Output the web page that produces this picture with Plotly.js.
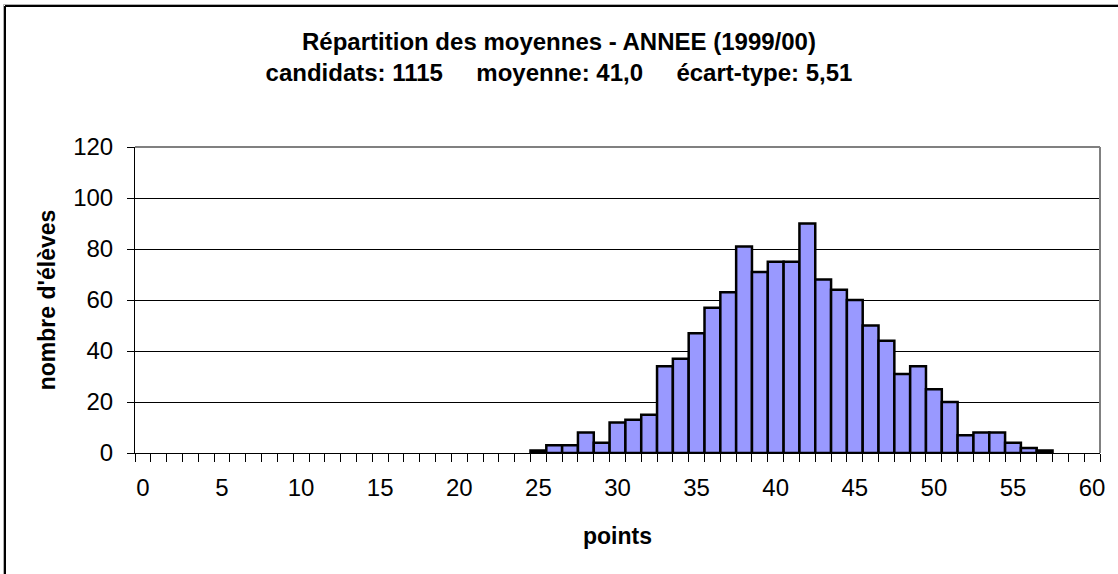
<!DOCTYPE html>
<html>
<head>
<meta charset="utf-8">
<script src="https://cdn.plot.ly/plotly-3.0.1.min.js"></script>
<style>
  html, body { margin: 0; padding: 0; background: #fff; }
  #chart { width: 1118px; height: 574px; }
</style>
</head>
<body>
<div id="chart"></div>
<script>
// Répartition des moyennes — histogram of averages, 1999/00
const notes = [25, 26, 27, 28, 29, 30, 31, 32, 33, 34, 35, 36, 37, 38, 39, 40, 41,
               42, 43, 44, 45, 46, 47, 48, 49, 50, 51, 52, 53, 54, 55, 56, 57];
const eleves = [1, 3, 3, 8, 4, 12, 13, 15, 34, 37, 47, 57, 63, 81, 71, 75, 75,
                90, 68, 64, 60, 50, 44, 31, 34, 25, 20, 7, 8, 8, 4, 2, 1];
const ticksX = [0, 5, 10, 15, 20, 25, 30, 35, 40, 45, 50, 55, 60];
const ticksY = [0, 20, 40, 60, 80, 100, 120];

const titre1 = "Répartition des moyennes - ANNEE (1999/00)";
const gap = "\u00a0\u00a0\u00a0\u00a0\u00a0";
const titre2 = "candidats: 1115" + gap + "moyenne: 41,0" + gap + "écart-type: 5,51";

const FONT = "'Liberation Sans', Arial, sans-serif";

// plot box in pixels, used to place the outer frame
const M = { l: 135, r: 18, t: 147, b: 121 };
const W = 1118, H = 574;
const pw = W - M.l - M.r, ph = H - M.t - M.b;
const px = x => (x - M.l) / pw;
const py = y => (H - M.b - y) / ph;

const frame = (x0, y0, x1, y1, color, width) => ({
  type: "line", xref: "paper", yref: "paper",
  x0: px(x0), y0: py(y0), x1: px(x1), y1: py(y1),
  line: { color, width }, layer: "above",
});

const trace = {
  type: "bar",
  x: notes,
  y: eleves,
  width: 1,
  marker: { color: "#9999FF", line: { color: "#000000", width: 2.5 } },
  hoverinfo: "x+y",
};

const layout = {
  width: W, height: H,
  margin: { ...M, pad: 0 },
  paper_bgcolor: "#ffffff",
  plot_bgcolor: "#ffffff",
  font: { family: FONT, size: 24, color: "#000" },
  showlegend: false,
  title: {
    text: titre1 + "<br>" + titre2,
    font: { family: FONT, size: 24, weight: "bold", color: "#000" },
    x: 0.5, xref: "container", xanchor: "center",
    y: 1 - 50 / H, yref: "container", yanchor: "top",
  },
  xaxis: {
    range: [-0.5, 60.5],
    tickmode: "array", tickvals: ticksX,
    ticks: "", ticklabelstandoff: 13,
    tickfont: { size: 24 },
    showline: true, linecolor: "#000", linewidth: 1,
    showgrid: false, zeroline: false,
    minor: { tick0: 0.5, dtick: 1, ticks: "outside", ticklen: 8, tickcolor: "#000", tickwidth: 1, showgrid: false },
    title: { text: "points", font: { size: 23, weight: "bold" }, standoff: 28 },
    fixedrange: true,
  },
  yaxis: {
    range: [0, 120],
    tickmode: "array", tickvals: ticksY,
    ticks: "outside", ticklen: 7, tickcolor: "#000", tickwidth: 1,
    tickfont: { size: 24 }, ticklabelstandoff: 9,
    showline: true, linecolor: "#000", linewidth: 1,
    showgrid: true, gridcolor: "#000", gridwidth: 1,
    zeroline: false,
    title: { text: "nombre d'élèves", font: { size: 23, weight: "bold" }, standoff: 11 },
    fixedrange: true,
  },
  shapes: [
    // grey top/right edge of the plot area
    { type: "line", xref: "paper", yref: "paper", x0: 0, y0: 1, x1: 1, y1: 1, line: { color: "#808080", width: 2 }, layer: "above" },
    { type: "line", xref: "paper", yref: "paper", x0: 1, y0: 0, x1: 1, y1: 1, line: { color: "#808080", width: 2 }, layer: "above" },
    // outer chart frame (left + top), with a soft grey shadow
    frame(3.5, 4.5, 3.5, H + 5, "#b0b0b0", 1),
    frame(3.5, 4.5, W + 5, 4.5, "#b0b0b0", 1),
    frame(5, 6, 5, H + 5, "#000", 2),
    frame(5, 6, W + 5, 6, "#000", 2),
  ],
  bargap: 0,
};

Plotly.newPlot("chart", [trace], layout, { displayModeBar: false, staticPlot: true });
</script>
</body>
</html>
